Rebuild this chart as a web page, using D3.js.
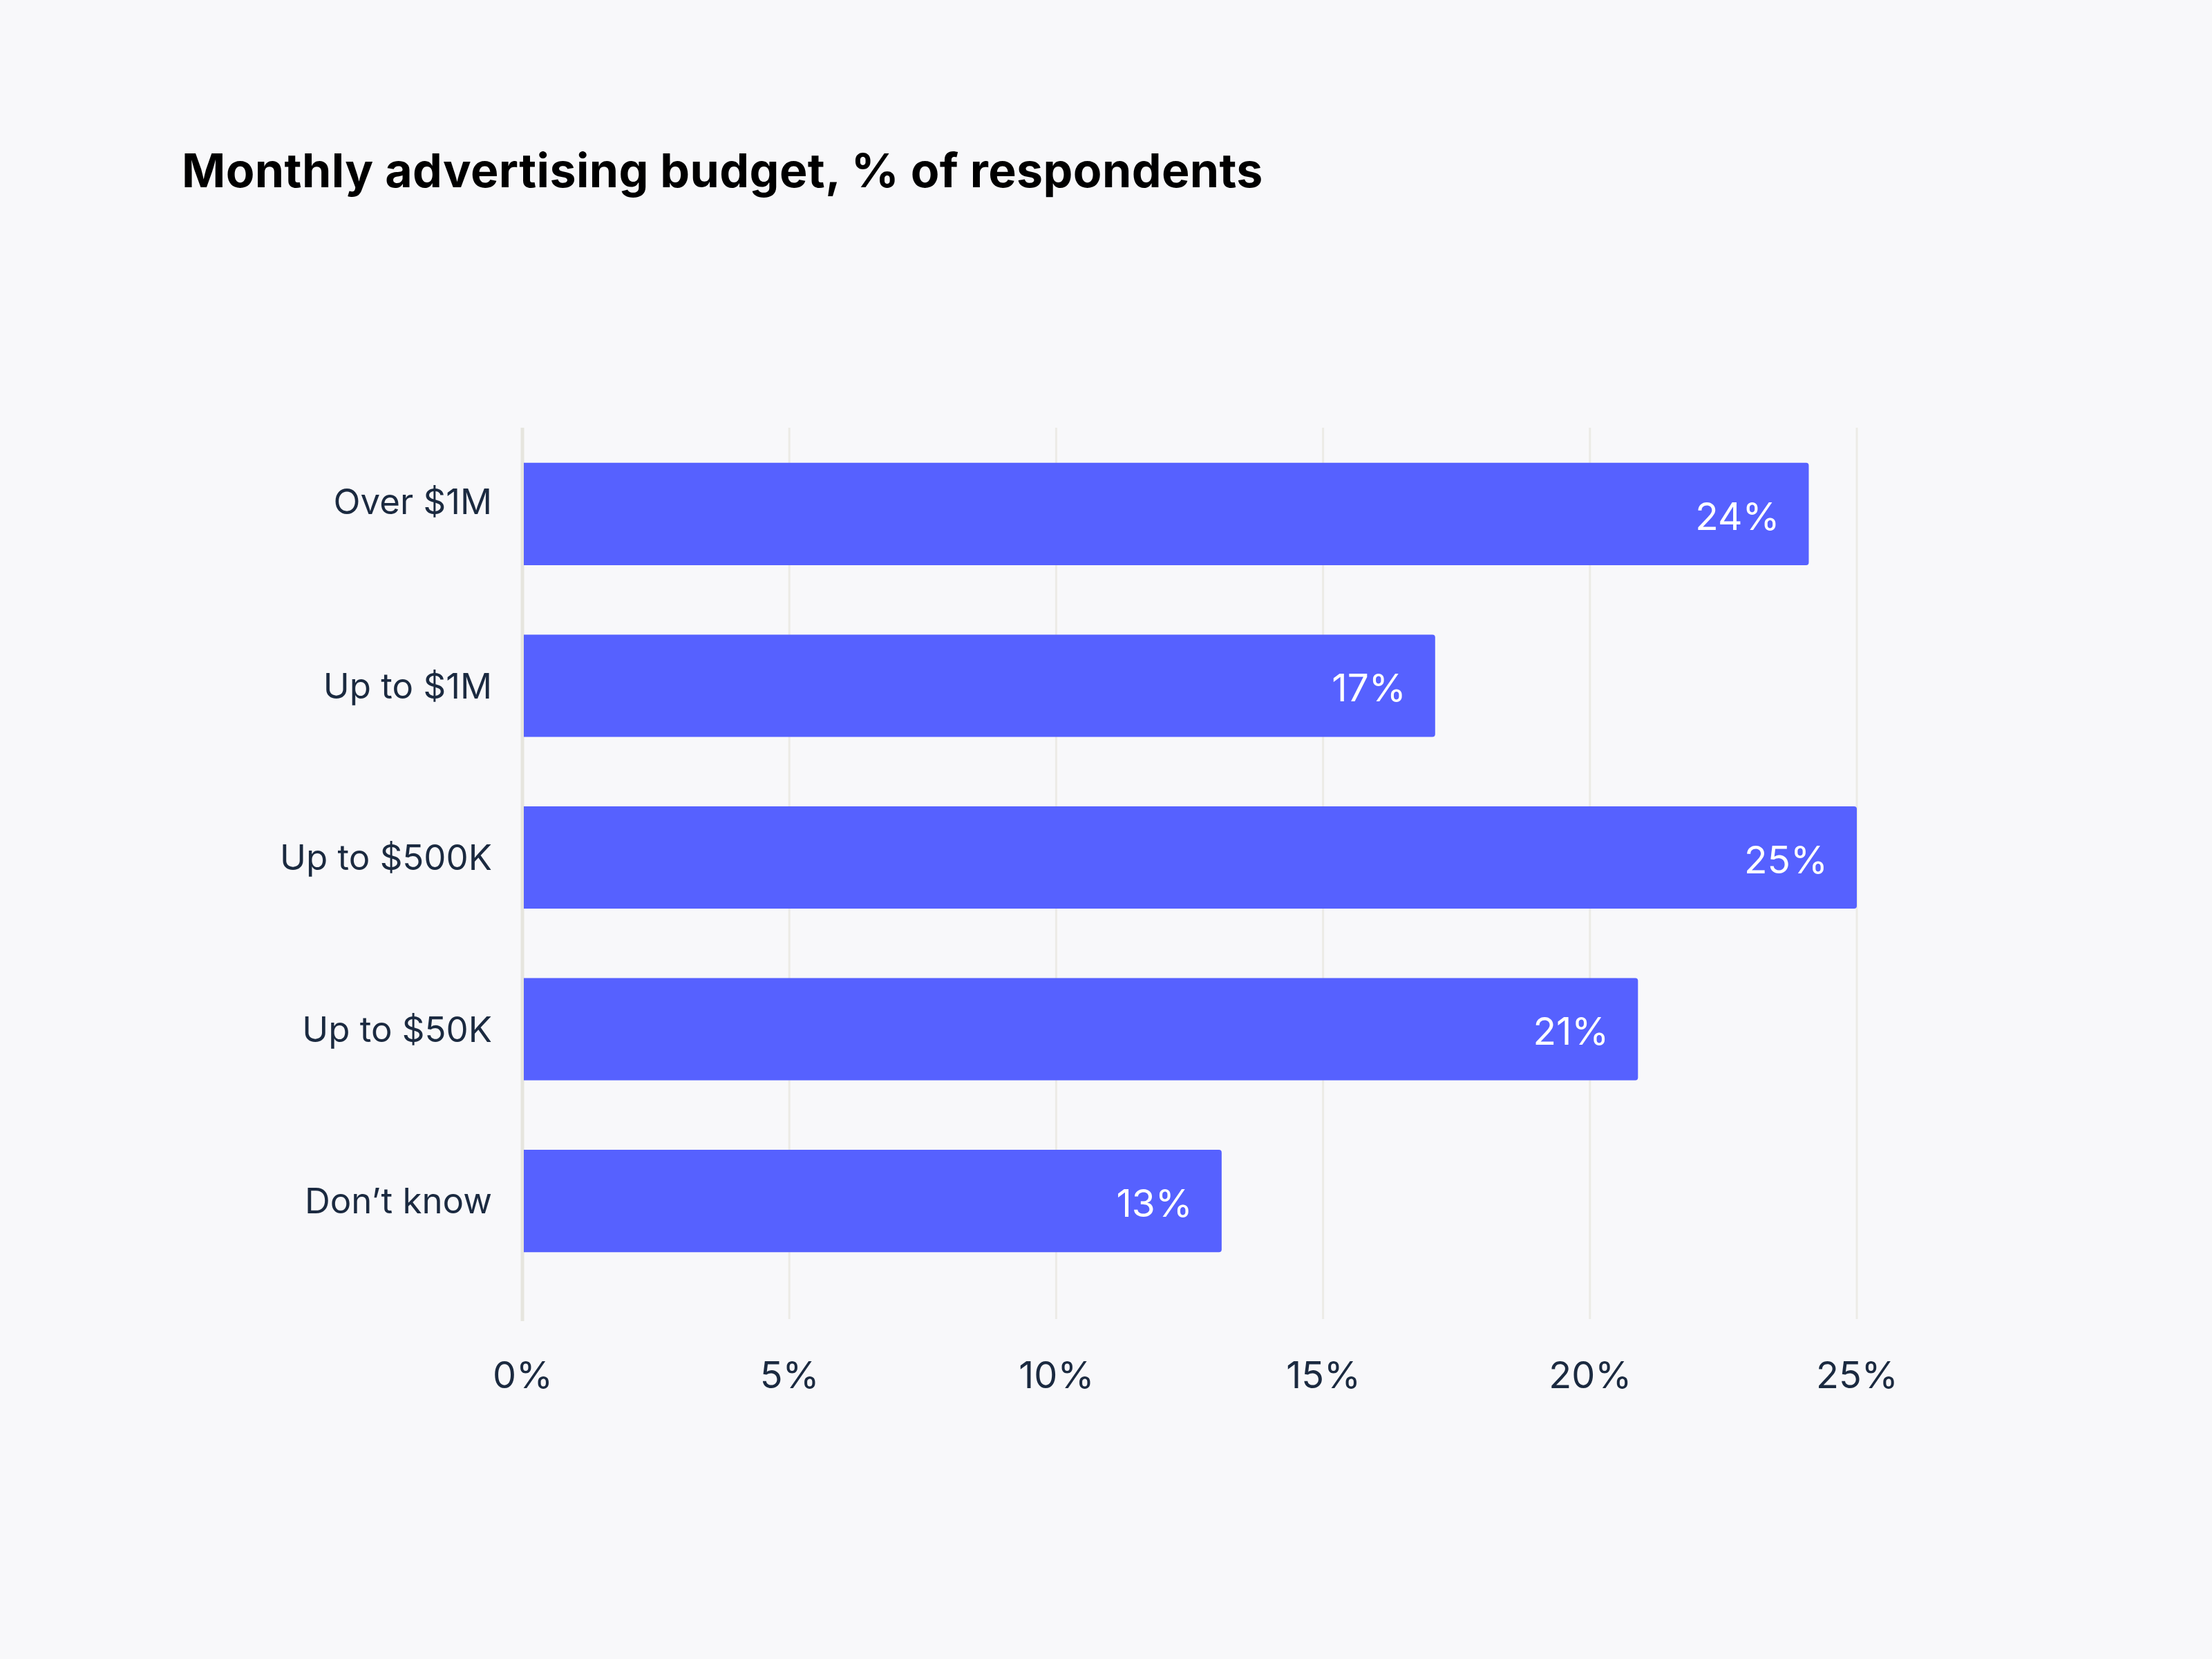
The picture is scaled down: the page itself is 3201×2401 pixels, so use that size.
<!DOCTYPE html>
<html>
<head>
<meta charset="utf-8">
<script src="https://cdn.jsdelivr.net/npm/d3@7"></script>
<style>
  html, body { margin: 0; padding: 0; background: #f8f8fa; }
  svg { display: block; }
  text { font-family: Inter, "Noto Sans", sans-serif; }
</style>
</head>
<body>
<div class="container"></div>
<script>
var categories = ['Over $1M', 'Up to $1M', 'Up to $500K', 'Up to $50K', 'Don\u2019t know'];
var shares = [24.1, 17.1, 25.0, 20.9, 13.1];
var tickValues = [0, 5, 10, 15, 20, 25];
var tickLabels = ['0%', '5%', '10%', '15%', '20%', '25%'];
var title = 'Monthly advertising budget, % of respondents';

const WIDTH = 3201;
const HEIGHT = 2401;
const LEFT = 756;
const RIGHT = 2687;
const GRID_TOP = 619;
const GRID_BOTTOM = 1909;

const BAR_COLOR = '#5661ff';
const TEXT_COLOR = '#1b2a40';

var _xScale;
var _yScale;

var onload = function() {
	var svg = d3.select('.container').append('svg')
		.attr('width', WIDTH)
		.attr('height', HEIGHT);

	svg.append('rect')
		.attr('width', WIDTH)
		.attr('height', HEIGHT)
		.attr('fill', '#f8f8fa');

	svg.append('text')
		.attr('x', 263)
		.attr('y', 271)
		.attr('font-size', 68)
		.attr('font-weight', 700)
		.attr('letter-spacing', 0.4)
		.attr('fill', '#000')
		.text(title);

	_xScale = d3.scaleLinear().domain([0, 25]).range([LEFT, RIGHT]);
	// bars run from 670 to 1812, step ~248
	_yScale = d3.scaleBand()
		.domain(categories)
		.range([645, 1837])
		.paddingInner(0.404)
		.paddingOuter(0.1);

	drawGrid(svg);
	drawBars(svg);
	drawLabels(svg);
}

var drawGrid = function(svg) {
	var grid = svg.append('g').classed('grid', true);
	grid.selectAll('line').data(tickValues).enter().append('line')
		.attr('x1', function(d){return _xScale(d)})
		.attr('x2', function(d){return _xScale(d)})
		.attr('y1', GRID_TOP)
		.attr('y2', function(d){return d === 0 ? GRID_BOTTOM + 3 : GRID_BOTTOM})
		.attr('stroke', function(d){return d === 0 ? '#e6e5de' : '#ecebe6'})
		.attr('stroke-width', function(d){return d === 0 ? 5 : 3});

	var xAxis = d3.axisBottom(_xScale)
		.tickValues(tickValues)
		.tickFormat(function(d, i){return tickLabels[i]})
		.tickSize(0)
		.tickPadding(0);

	var ax = svg.append('g')
		.attr('transform', 'translate(0,1990)')
		.call(xAxis);
	ax.select('.domain').remove();
	ax.selectAll('text')
		.attr('dy', '0.36em')
		.attr('font-size', 54)
		.attr('font-family', 'Inter, sans-serif')
		.attr('fill', TEXT_COLOR);
}

var drawBars = function(svg) {
	var g = svg.append('g').classed('bars', true);
	var bars = g.selectAll('g').data(categories).enter().append('g');

	bars.append('path')
		.attr('fill', BAR_COLOR)
		.attr('d', function(d, i) {
			var x0 = _xScale(0) + 2, x1 = _xScale(shares[i]);
			var y0 = _yScale(d), h = _yScale.bandwidth(), r = 4;
			return 'M' + x0 + ',' + y0 +
				'H' + (x1 - r) + 'Q' + x1 + ',' + y0 + ' ' + x1 + ',' + (y0 + r) +
				'V' + (y0 + h - r) + 'Q' + x1 + ',' + (y0 + h) + ' ' + (x1 - r) + ',' + (y0 + h) +
				'H' + x0 + 'Z';
		});

	bars.append('text')
		.attr('x', function(d, i){return _xScale(shares[i]) - 42})
		.attr('y', function(d){return _yScale(d) + _yScale.bandwidth() / 2 + 3})
		.attr('dy', '0.36em')
		.attr('text-anchor', 'end')
		.attr('font-size', 55)
		.attr('fill', '#fff')
		.text(function(d, i){return d3.format('.0f')(shares[i]) + '%'});
}

var drawLabels = function(svg) {
	var yAxis = d3.axisLeft(_yScale).tickSize(0).tickPadding(0);
	var ay = svg.append('g')
		.attr('transform', 'translate(' + (LEFT - 44) + ',0)')
		.call(yAxis);
	ay.select('.domain').remove();
	ay.selectAll('text')
		.attr('dy', '0.36em')
		.attr('font-size', 51)
		.attr('font-family', 'Inter, sans-serif')
		.attr('fill', TEXT_COLOR);
	// the top label sits a little above its bar in the original
	ay.selectAll('text').filter(function(d, i){return i === 0})
		.attr('dy', '0.0em');
}

window.onload = onload;
</script>
</body>
</html>
